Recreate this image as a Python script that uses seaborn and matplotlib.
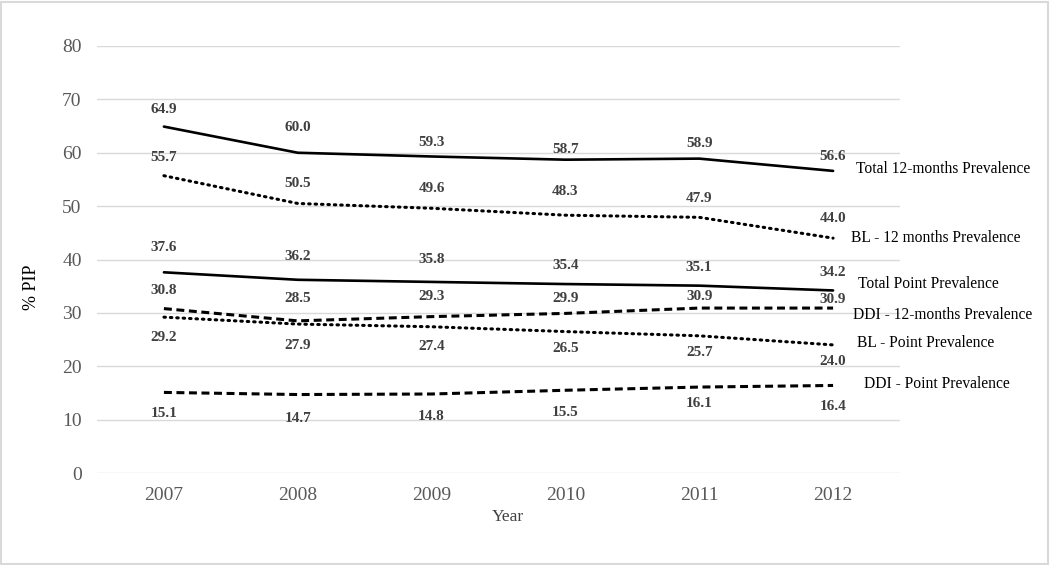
import matplotlib
matplotlib.use("Agg")
import matplotlib.pyplot as plt
import pandas as pd
import seaborn as sns
from matplotlib.patches import Rectangle

years = [2007, 2008, 2009, 2010, 2011, 2012]

total_12m = [64.9, 60.0, 59.3, 58.7, 58.9, 56.6]
bl_12m = [55.7, 50.5, 49.6, 48.3, 47.9, 44.0]
total_point = [37.6, 36.2, 35.8, 35.4, 35.1, 34.2]
ddi_12m = [30.8, 28.5, 29.3, 29.9, 30.9, 30.9]
bl_point = [29.2, 27.9, 27.4, 26.5, 25.7, 24.0]
ddi_point = [15.1, 14.7, 14.8, 15.5, 16.1, 16.4]

series_names = [
    "Total 12-months Prevalence",
    "BL - 12 months Prevalence",
    "Total Point Prevalence",
    "DDI - 12-months Prevalence",
    "BL - Point Prevalence",
    "DDI - Point Prevalence",
]
series_values = [total_12m, bl_12m, total_point, ddi_12m, bl_point, ddi_point]

# style per series: linestyle, value-label offsets (px), name-label offset (px)
styles = {
    "Total 12-months Prevalence": ("-", [-17, -25, -14, -10, -15, -14], (23, 2)),
    "BL - 12 months Prevalence": (":", [-18, -20, -20, -24, -19, -20], (18, 0)),
    "Total Point Prevalence": ("-", [-25, -23, -22, -19, -18, -18], (25, 6)),
    "DDI - 12-months Prevalence": ("--", [-18, -22, -20, -15, -12, -9], (20, -7)),
    "BL - Point Prevalence": (":", [20, 21, 20, 17, 17, 17], (24, 2)),
    "DDI - Point Prevalence": ("--", [21, 24, 22, 22, 16, 21], (31, 1)),
}

rows = []
for name, vals in zip(series_names, series_values):
    for i, (y, v) in enumerate(zip(years, vals)):
        rows.append({"series": name, "idx": i, "year": y, "value": v})
df = pd.DataFrame(rows)

sns.set_theme(style="white")
plt.rcParams["font.family"] = ["Liberation Serif", "DejaVu Serif"]

fig = plt.figure(figsize=(10.5, 5.65), dpi=100)
ax = fig.add_axes([97 / 1050, 1 - 473 / 565, 803 / 1050, 427 / 565])

for name in series_names:
    ls = styles[name][0]
    sub = df[df["series"] == name]
    sns.lineplot(data=sub, x="idx", y="value", ax=ax, color="black",
                 linewidth=1.9 if ls == "-" else 2.2, linestyle=ls,
                 legend=False)
for line in ax.get_lines():
    if line.get_linestyle() == ":":
        line.set_dash_capstyle("round")
        line.set_dashes((0.5, 1.6))
    elif line.get_linestyle() == "--":
        line.set_dashes((2.6, 1.5))

for name in series_names:
    _, offs, (nx, ny) = styles[name]
    sub = df[df["series"] == name]
    for (_, r), dy in zip(sub.iterrows(), offs):
        ax.annotate(f"{r['value']:.1f}", (r["idx"], r["value"]),
                    xytext=(0, -dy), textcoords="offset pixels",
                    ha="center", va="center", fontsize=11,
                    fontweight="bold", color="#404040")
    last = sub.iloc[-1]
    ax.annotate(name, (last["idx"], last["value"]), xytext=(nx, ny),
                textcoords="offset pixels", ha="left", va="center",
                fontsize=11.2, color="black", annotation_clip=False)

ax.set_xlim(-0.5, 5.5)
ax.set_ylim(0, 80)
ax.set_yticks(range(0, 81, 10))
ax.set_xticks(range(len(years)))
ax.set_xticklabels([str(y) for y in years])
ax.grid(axis="y", color="#d9d9d9", linewidth=1)
ax.set_axisbelow(True)
for s in ax.spines.values():
    s.set_visible(False)
ax.tick_params(axis="both", length=0, labelsize=14, labelcolor="#595959")
ax.tick_params(axis="y", pad=11)
ax.tick_params(axis="x", pad=10)

ax.set_xlabel("Year", fontsize=12.5, color="#404040")
ax.xaxis.set_label_coords(0.512, -0.084)
ax.set_ylabel("% PIP", fontsize=13, color="black")
ax.yaxis.set_label_coords(-0.071, 0.436)

fig.patches.append(Rectangle((0.001, 0.002), 0.997, 0.995, transform=fig.transFigure,
                             fill=False, edgecolor="#d9d9d9", linewidth=1.5))

fig.savefig("out.png", dpi=100)
